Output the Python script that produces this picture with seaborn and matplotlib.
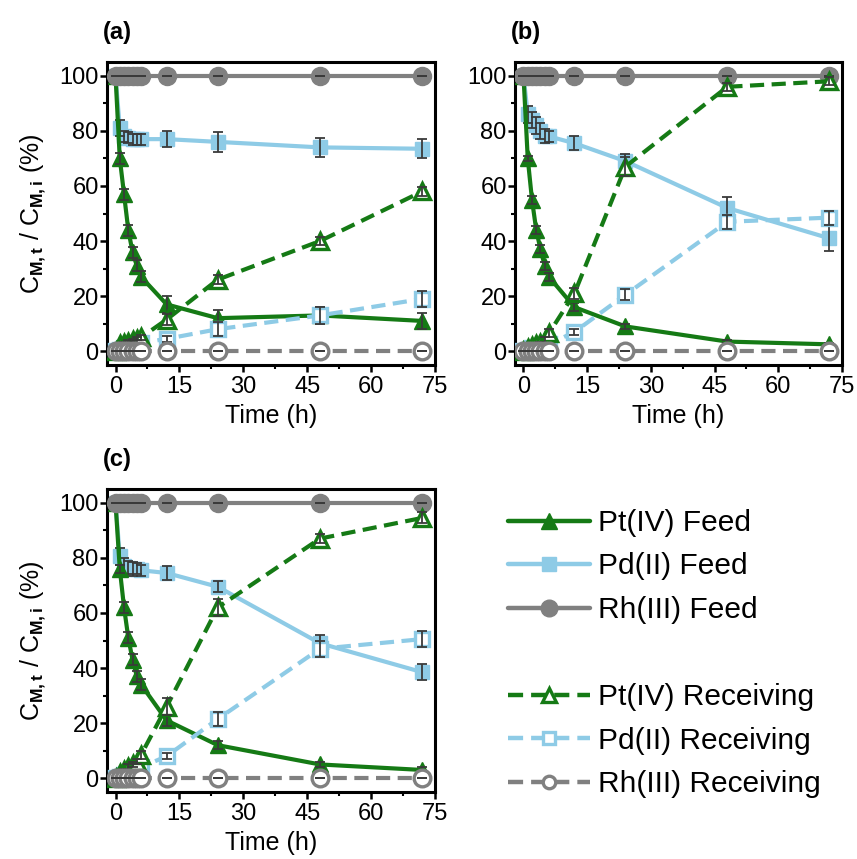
import numpy as np
import pandas as pd
import matplotlib
matplotlib.use("Agg")
import matplotlib.pyplot as plt
import seaborn as sns
from matplotlib.lines import Line2D
from matplotlib.ticker import MultipleLocator

sns.set_theme(style="ticks")
plt.rcParams["font.family"] = ["Liberation Sans", "DejaVu Sans"]
plt.rcParams["mathtext.fontset"] = "custom"
plt.rcParams["mathtext.rm"] = "Liberation Sans"
plt.rcParams["mathtext.it"] = "Liberation Sans:italic"
plt.rcParams["mathtext.bf"] = "Liberation Sans:bold"
plt.rcParams["text.color"] = "black"
plt.rcParams["axes.labelcolor"] = "black"
plt.rcParams["xtick.color"] = "black"
plt.rcParams["ytick.color"] = "black"
plt.rcParams["xtick.labelcolor"] = "black"
plt.rcParams["ytick.labelcolor"] = "black"

# ---------------- data ----------------
time_h = [0, 1, 2, 3, 4, 5, 6, 12, 24, 48, 72]

rh_feed = [100, 100, 100, 100, 100, 100, 100, 100, 100, 100, 100]
rh_rec = [0, 0, 0, 0, 0, 0, 0, 0, 0, 0, 0]
rh_err = [0, 0, 0, 0, 0, 0, 0, 0, 0, 0, 0]

# panel (a)
a_pt_feed = [100, 70, 57, 44, 36, 31, 27, 17, 12, 13, 11]
a_pt_feed_err = [0, 2, 2, 2, 2, 2, 2, 3, 3, 3, 3]
a_pd_feed = [100, 81, 78, 77.5, 77, 77, 77, 77, 76, 74, 73.5]
a_pd_feed_err = [0, 3, 2, 2, 2, 2, 2, 3, 3.5, 3.5, 3.5]
a_pt_rec = [0, 2.5, 3, 3.5, 4, 4.5, 5, 11.5, 26, 40, 58]
a_pt_rec_err = [0, 0.5, 0.5, 0.5, 0.5, 0.5, 1, 2, 1.5, 1.5, 1.5]
a_pd_rec = [0, 0.5, 1, 1.5, 2, 2.5, 3, 4.5, 8, 13, 19]
a_pd_rec_err = [0, 0.5, 0.5, 0.5, 0.5, 0.5, 1, 1, 2.5, 3, 3]

# panel (b)
b_pt_feed = [100, 70, 55, 44, 37, 31, 27, 16, 9, 3.5, 2.5]
b_pt_feed_err = [0, 1, 1.5, 1.5, 1.5, 1.5, 1.5, 1.5, 1, 0.5, 0.5]
b_pd_feed = [100, 86, 84, 82, 80, 78, 78, 75.5, 69, 52, 41]
b_pd_feed_err = [0, 3, 3, 3, 3, 2.5, 2, 2.5, 2.5, 4, 4.5]
b_pt_rec = [0, 1, 2, 2.5, 3, 4, 6.5, 21, 67, 96, 98]
b_pt_rec_err = [0, 0.5, 0.5, 0.5, 0.5, 1, 1.5, 2, 3.5, 1.5, 1.5]
b_pd_rec = [0, 0.5, 1, 1, 1.5, 2, 2.5, 7, 20.5, 47, 48.5]
b_pd_rec_err = [0, 0.5, 0.5, 0.5, 0.5, 0.5, 1, 1, 2, 2.5, 2.5]

# panel (c)
c_pt_feed = [100, 76, 62, 51, 43, 37, 34, 21, 12, 5, 3]
c_pt_feed_err = [0, 1.5, 2, 2, 2, 2, 2, 2, 1.5, 1, 1]
c_pd_feed = [100, 80.5, 77, 76.5, 76, 76, 75.5, 74.5, 69.5, 49, 38.5]
c_pd_feed_err = [0, 3, 3, 2.5, 2.5, 2, 2, 2.5, 2, 3, 3]
c_pt_rec = [0, 2, 3, 4, 5, 6, 8.5, 26, 62, 87, 94.5]
c_pt_rec_err = [0, 0.5, 0.5, 1, 1, 1, 1.5, 3, 3, 1.5, 2]
c_pd_rec = [0, 0.5, 1, 1.5, 2, 3, 4, 8, 21.5, 47, 50.5]
c_pd_rec_err = [0, 0.5, 0.5, 0.5, 0.5, 1, 1, 1, 2.5, 3, 3]

panel_labels = ["(a)", "(b)", "(c)"]
legend_labels = ["Pt(IV) Feed", "Pd(II) Feed", "Rh(III) Feed", "",
                 "Pt(IV) Receiving", "Pd(II) Receiving", "Rh(III) Receiving"]
x_ticks = [0, 15, 30, 45, 60, 75]
y_ticks = [0, 20, 40, 60, 80, 100]

# ---------------- styles ----------------
GREEN = "#157a15"
BLUE = "#8ecbe6"
GRAY = "#808080"
ERRC = "#3a3a3a"
DASH = (0, (3.4, 1.8))
LW = 3.0

W, H = 857, 859
fig = plt.figure(figsize=(W / 100, H / 100), dpi=100)

def box(l, r, t, b):
    return [l / W, 1 - b / H, (r - l) / W, (b - t) / H]

ax_a = fig.add_axes(box(107, 435, 62, 365))
ax_b = fig.add_axes(box(515, 842, 62, 365))
ax_c = fig.add_axes(box(107, 435, 489, 792))

panels = [
    (ax_a, a_pt_feed, a_pt_feed_err, a_pd_feed, a_pd_feed_err, a_pt_rec, a_pt_rec_err, a_pd_rec, a_pd_rec_err),
    (ax_b, b_pt_feed, b_pt_feed_err, b_pd_feed, b_pd_feed_err, b_pt_rec, b_pt_rec_err, b_pd_rec, b_pd_rec_err),
    (ax_c, c_pt_feed, c_pt_feed_err, c_pd_feed, c_pd_feed_err, c_pt_rec, c_pt_rec_err, c_pd_rec, c_pd_rec_err),
]


def draw(ax, y, err, color, marker, ms, filled, dashed, z):
    df = pd.DataFrame({"time": time_h, "value": y})
    sns.lineplot(data=df, x="time", y="value", ax=ax, color=color, lw=LW,
                 linestyle=DASH if dashed else "-", marker=marker, markersize=ms,
                 markerfacecolor=color if filled else "white", markeredgecolor=color,
                 markeredgewidth=1.0 if filled else 2.4, errorbar=None, zorder=z)
    ax.errorbar(time_h, y, yerr=err, fmt="none", ecolor=ERRC, elinewidth=1.3,
                capsize=3.5, capthick=1.3, zorder=z + 0.5)


for i, (ax, ptf, ptfe, pdf_, pdfe, ptr, ptre, pdr, pdre) in enumerate(panels):
    draw(ax, pdf_, pdfe, BLUE, "s", 10, True, False, 2)
    draw(ax, ptf, ptfe, GREEN, "^", 12, True, False, 3)
    draw(ax, rh_feed, rh_err, GRAY, "o", 13, True, False, 4)
    draw(ax, pdr, pdre, BLUE, "s", 10, False, True, 5)
    draw(ax, ptr, ptre, GREEN, "^", 12, False, True, 6)
    draw(ax, rh_rec, rh_err, GRAY, "o", 12, False, True, 7)

    ax.set_xlim(-2, 75)
    ax.set_ylim(-5, 105)
    ax.set_xticks(x_ticks)
    ax.set_yticks(y_ticks)
    ax.xaxis.set_minor_locator(MultipleLocator(7.5))
    ax.yaxis.set_minor_locator(MultipleLocator(10))
    ax.tick_params(which="major", direction="out", length=5, width=1.8,
                   labelsize=17, colors="black")
    ax.tick_params(axis="y", which="major", pad=1)
    ax.tick_params(axis="x", which="major", pad=3)
    ax.tick_params(which="minor", direction="out", length=3, width=1.5, colors="black")
    for sp in ax.spines.values():
        sp.set_visible(True)
        sp.set_linewidth(2.2)
        sp.set_color("black")
    ax.set_xlabel("Time (h)", fontsize=18, labelpad=4, color="black")
    if i in (0, 2):
        ax.set_ylabel(r"C$_{\mathbf{M,t}}$ / C$_{\mathbf{M,i}}$ (%)", fontsize=18,
                      labelpad=8, color="black")
    else:
        ax.set_ylabel("")
    ax.grid(False)
    ax.text(-0.012, 1.096, panel_labels[i], transform=ax.transAxes, fontsize=17,
            fontweight="bold", ha="left", va="center", color="black")

# legend
handles = [
    Line2D([], [], color=GREEN, lw=3.2, marker="^", markersize=12, mfc=GREEN, mec=GREEN),
    Line2D([], [], color=BLUE, lw=3.2, marker="s", markersize=10, mfc=BLUE, mec=BLUE),
    Line2D([], [], color=GRAY, lw=3.2, marker="o", markersize=12, mfc=GRAY, mec=GRAY),
    Line2D([], [], linestyle="none", marker=None),
    Line2D([], [], color=GREEN, lw=3.2, linestyle=DASH, marker="^", markersize=10,
           mfc="white", mec=GREEN, mew=2.4),
    Line2D([], [], color=BLUE, lw=3.2, linestyle=DASH, marker="s", markersize=9,
           mfc="white", mec=BLUE, mew=2.4),
    Line2D([], [], color=GRAY, lw=3.2, linestyle=DASH, marker="o", markersize=9,
           mfc="white", mec=GRAY, mew=2.4),
]
leg = fig.legend(handles, legend_labels, loc="upper left", bbox_to_anchor=(0.593, 0.4075),
                 frameon=False, fontsize=21.5, handlelength=2.75, handletextpad=0.25,
                 labelspacing=0.52, borderaxespad=0, borderpad=0)
for t in leg.get_texts():
    t.set_color("black")

fig.savefig("out.png", dpi=100)
